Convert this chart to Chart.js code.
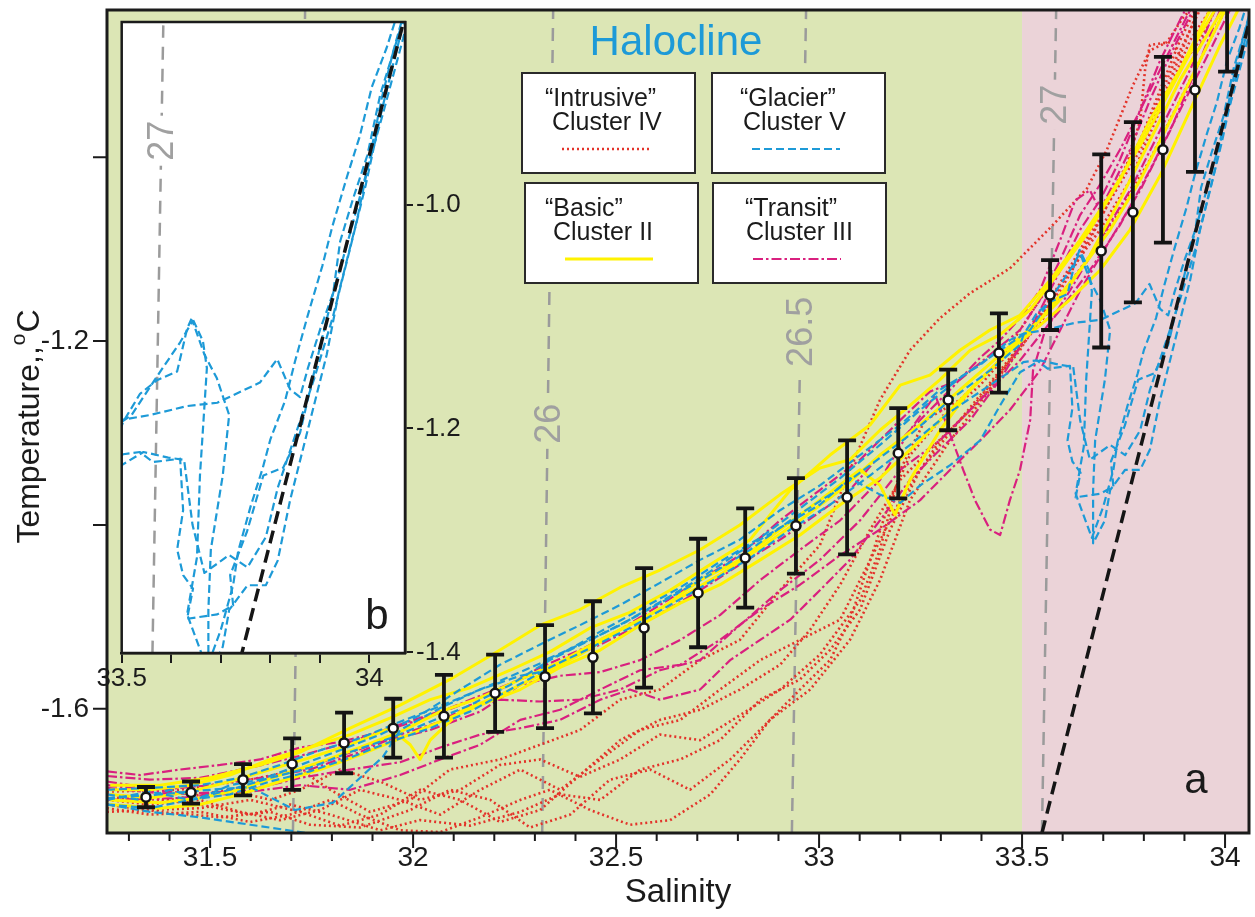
<!DOCTYPE html>
<html>
<head>
<meta charset="utf-8">
<title>T–S diagram</title>
<script src="https://cdn.jsdelivr.net/npm/chart.js@4.4.1/dist/chart.umd.min.js"></script>
<style>
  html, body { margin: 0; padding: 0; background: #fff; }
  #wrap { position: relative; width: 1255px; height: 917px; }
  #main { position: absolute; left: 0; top: 0; }
  #inset { position: absolute; left: 60px; top: 0; }
</style>
</head>
<body>
<div id="wrap">
  <canvas id="main" width="1255" height="917"></canvas>
  <canvas id="inset" width="420" height="700"></canvas>
</div>
<script>
const FONT = "'Liberation Sans', Arial, Helvetica, sans-serif";
const INK = '#1b1b1b';
const GREEN = '#dce6b5';
const PINK = '#ebd3d8';

// profiles per cluster, points are [salinity, temperature °C]
const intrusive = [
  [[31.246,-1.699],[31.352,-1.704],[31.475,-1.699],[31.574,-1.712],[31.672,-1.721],[31.771,-1.710],[31.869,-1.688],[31.968,-1.699],[32.067,-1.715],[32.165,-1.688],[32.264,-1.666],[32.362,-1.688],[32.461,-1.655],[32.559,-1.623],[32.658,-1.612],[32.756,-1.579],[32.855,-1.547],[32.953,-1.525],[33.052,-1.503],[33.126,-1.438],[33.200,-1.373],[33.298,-1.308],[33.397,-1.264],[33.495,-1.210],[33.569,-1.155],[33.643,-1.101],[33.717,-1.041],[33.791,-0.982],[33.840,-0.927],[33.889,-0.873],[33.926,-0.840]],
  [[31.246,-1.704],[31.377,-1.712],[31.525,-1.718],[31.648,-1.712],[31.746,-1.726],[31.869,-1.729],[31.993,-1.710],[32.091,-1.688],[32.190,-1.699],[32.288,-1.729],[32.387,-1.715],[32.485,-1.677],[32.584,-1.666],[32.682,-1.688],[32.781,-1.655],[32.879,-1.612],[32.978,-1.579],[33.076,-1.525],[33.150,-1.460],[33.224,-1.373],[33.323,-1.308],[33.421,-1.253],[33.520,-1.188],[33.594,-1.145],[33.667,-1.090],[33.741,-1.025],[33.815,-0.960],[33.877,-0.895],[33.938,-0.840]],
  [[31.246,-1.693],[31.352,-1.697],[31.475,-1.704],[31.599,-1.715],[31.697,-1.704],[31.796,-1.715],[31.919,-1.732],[32.017,-1.721],[32.140,-1.727],[32.264,-1.712],[32.362,-1.693],[32.461,-1.699],[32.559,-1.666],[32.658,-1.655],[32.756,-1.634],[32.855,-1.590],[32.953,-1.568],[33.027,-1.536],[33.101,-1.492],[33.175,-1.405],[33.249,-1.340],[33.347,-1.286],[33.446,-1.232],[33.544,-1.177],[33.618,-1.123],[33.692,-1.068],[33.754,-1.014],[33.791,-0.960],[33.803,-0.905],[33.815,-0.878],[33.865,-0.875],[33.902,-0.895],[33.938,-0.873],[33.975,-0.840]],
  [[31.246,-1.690],[31.426,-1.688],[31.599,-1.677],[31.722,-1.666],[31.796,-1.688],[31.894,-1.712],[31.993,-1.699],[32.091,-1.666],[32.214,-1.655],[32.313,-1.639],[32.411,-1.623],[32.510,-1.590],[32.608,-1.579],[32.707,-1.547],[32.805,-1.525],[32.904,-1.471],[33.002,-1.422],[33.076,-1.340],[33.150,-1.264],[33.224,-1.210],[33.298,-1.175],[33.372,-1.148],[33.470,-1.121],[33.569,-1.077],[33.660,-1.034],[33.709,-0.992],[33.773,-0.922],[33.815,-0.884],[33.857,-0.875],[33.897,-0.848],[33.919,-0.838]],
  [[31.246,-1.708],[31.352,-1.715],[31.475,-1.712],[31.599,-1.723],[31.697,-1.715],[31.796,-1.699],[31.869,-1.715],[31.968,-1.732],[32.067,-1.734],[32.165,-1.718],[32.264,-1.699],[32.337,-1.688],[32.436,-1.710],[32.534,-1.726],[32.633,-1.721],[32.732,-1.693],[32.805,-1.655],[32.879,-1.612],[32.953,-1.579],[33.027,-1.547],[33.076,-1.503],[33.126,-1.438],[33.175,-1.373],[33.224,-1.324],[33.298,-1.286],[33.397,-1.248],[33.495,-1.199],[33.594,-1.139],[33.692,-1.079],[33.766,-1.025],[33.840,-0.949],[33.914,-0.873],[33.963,-0.840]],
  [[31.246,-1.697],[31.401,-1.699],[31.549,-1.688],[31.648,-1.699],[31.722,-1.688],[31.820,-1.666],[31.919,-1.679],[32.017,-1.699],[32.116,-1.688],[32.214,-1.661],[32.313,-1.655],[32.411,-1.674],[32.510,-1.655],[32.608,-1.628],[32.707,-1.634],[32.805,-1.607],[32.904,-1.579],[33.002,-1.541],[33.101,-1.482],[33.150,-1.427],[33.200,-1.340],[33.261,-1.286],[33.347,-1.264],[33.446,-1.221],[33.544,-1.155],[33.643,-1.090],[33.717,-1.047],[33.791,-0.992],[33.865,-0.916],[33.914,-0.862],[33.933,-0.840]],
  [[31.246,-1.712],[31.352,-1.710],[31.475,-1.708],[31.599,-1.699],[31.722,-1.712],[31.820,-1.727],[31.919,-1.715],[32.017,-1.688],[32.116,-1.699],[32.214,-1.723],[32.313,-1.710],[32.411,-1.672],[32.510,-1.634],[32.608,-1.612],[32.707,-1.601],[32.805,-1.579],[32.904,-1.552],[32.978,-1.514],[33.052,-1.465],[33.126,-1.405],[33.200,-1.351],[33.273,-1.318],[33.372,-1.275],[33.470,-1.221],[33.569,-1.166],[33.667,-1.107],[33.741,-1.058],[33.815,-1.003],[33.889,-0.938],[33.963,-0.873],[34.000,-0.840]]
];

const transit = [
  [[31.246,-1.668],[31.328,-1.672],[31.426,-1.666],[31.525,-1.661],[31.623,-1.655],[31.722,-1.642],[31.820,-1.636],[31.919,-1.625],[32.017,-1.612],[32.116,-1.596],[32.214,-1.579],[32.313,-1.555],[32.411,-1.536],[32.510,-1.514],[32.608,-1.487],[32.707,-1.460],[32.805,-1.433],[32.904,-1.395],[33.002,-1.362],[33.101,-1.329],[33.200,-1.286],[33.273,-1.255],[33.347,-1.242],[33.421,-1.215],[33.495,-1.188],[33.544,-1.155],[33.594,-1.112],[33.643,-1.063],[33.692,-1.030],[33.741,-0.992],[33.791,-0.949],[33.840,-0.905],[33.889,-0.862],[33.914,-0.840]],
  [[31.246,-1.679],[31.377,-1.688],[31.500,-1.683],[31.623,-1.675],[31.746,-1.666],[31.869,-1.647],[31.968,-1.628],[32.067,-1.614],[32.140,-1.596],[32.214,-1.590],[32.313,-1.592],[32.411,-1.590],[32.510,-1.579],[32.608,-1.558],[32.707,-1.547],[32.805,-1.509],[32.904,-1.471],[33.002,-1.438],[33.101,-1.395],[33.200,-1.340],[33.298,-1.308],[33.397,-1.264],[33.495,-1.221],[33.594,-1.166],[33.667,-1.123],[33.741,-1.074],[33.815,-1.014],[33.889,-0.949],[33.963,-0.884],[34.012,-0.840]],
  [[31.246,-1.686],[31.401,-1.693],[31.549,-1.690],[31.672,-1.672],[31.796,-1.655],[31.919,-1.636],[32.042,-1.623],[32.165,-1.603],[32.264,-1.574],[32.362,-1.564],[32.461,-1.560],[32.559,-1.547],[32.658,-1.525],[32.756,-1.498],[32.855,-1.460],[32.953,-1.427],[33.052,-1.395],[33.150,-1.351],[33.224,-1.297],[33.286,-1.259],[33.310,-1.286],[33.355,-1.340],[33.384,-1.373],[33.421,-1.405],[33.446,-1.411],[33.470,-1.373],[33.495,-1.340],[33.520,-1.286],[33.527,-1.232],[33.557,-1.188],[33.618,-1.145],[33.692,-1.090],[33.766,-1.036],[33.840,-0.971],[33.914,-0.905],[33.975,-0.840]],
  [[31.246,-1.699],[31.426,-1.697],[31.599,-1.688],[31.722,-1.675],[31.845,-1.666],[31.968,-1.658],[32.067,-1.642],[32.165,-1.628],[32.264,-1.621],[32.362,-1.612],[32.461,-1.590],[32.534,-1.579],[32.608,-1.590],[32.707,-1.579],[32.781,-1.547],[32.855,-1.525],[32.929,-1.503],[33.002,-1.471],[33.076,-1.438],[33.150,-1.395],[33.224,-1.351],[33.298,-1.318],[33.372,-1.286],[33.446,-1.242],[33.520,-1.188],[33.594,-1.123],[33.643,-1.079],[33.692,-1.047],[33.741,-1.003],[33.791,-0.949],[33.840,-0.895],[33.889,-0.851],[33.902,-0.840]],
  [[31.246,-1.673],[31.352,-1.677],[31.475,-1.675],[31.599,-1.664],[31.722,-1.651],[31.845,-1.636],[31.968,-1.617],[32.091,-1.599],[32.214,-1.577],[32.337,-1.555],[32.461,-1.530],[32.584,-1.503],[32.707,-1.471],[32.805,-1.443],[32.904,-1.416],[33.002,-1.386],[33.076,-1.362],[33.150,-1.324],[33.200,-1.308],[33.273,-1.275],[33.323,-1.253],[33.397,-1.218],[33.446,-1.199],[33.495,-1.175],[33.544,-1.145],[33.594,-1.090],[33.631,-1.047],[33.667,-1.036],[33.692,-1.058],[33.717,-1.036],[33.766,-0.992],[33.815,-0.938],[33.865,-0.889],[33.914,-0.846],[33.926,-0.840]],
  [[31.246,-1.683],[31.377,-1.690],[31.549,-1.693],[31.722,-1.683],[31.845,-1.688],[31.968,-1.672],[32.067,-1.655],[32.165,-1.639],[32.264,-1.612],[32.362,-1.601],[32.461,-1.579],[32.559,-1.558],[32.658,-1.552],[32.756,-1.525],[32.855,-1.492],[32.953,-1.465],[33.052,-1.433],[33.150,-1.405],[33.249,-1.373],[33.323,-1.340],[33.397,-1.308],[33.470,-1.275],[33.544,-1.232],[33.594,-1.188],[33.643,-1.145],[33.717,-1.090],[33.791,-1.036],[33.865,-0.971],[33.938,-0.895],[33.988,-0.840]]
];

const basic = [
  [[31.254,-1.688],[31.352,-1.688],[31.451,-1.683],[31.549,-1.672],[31.648,-1.655],[31.746,-1.642],[31.845,-1.628],[31.943,-1.610],[32.042,-1.590],[32.140,-1.577],[32.239,-1.558],[32.337,-1.538],[32.436,-1.512],[32.534,-1.495],[32.633,-1.471],[32.732,-1.443],[32.830,-1.416],[32.929,-1.362],[33.027,-1.324],[33.126,-1.291],[33.200,-1.248],[33.273,-1.237],[33.347,-1.210],[33.421,-1.188],[33.495,-1.172],[33.569,-1.134],[33.643,-1.090],[33.717,-1.041],[33.791,-0.987],[33.865,-0.927],[33.938,-0.867],[33.975,-0.840]],
  [[31.254,-1.693],[31.352,-1.697],[31.451,-1.690],[31.549,-1.679],[31.648,-1.666],[31.746,-1.653],[31.845,-1.639],[31.943,-1.621],[31.993,-1.639],[32.017,-1.655],[32.042,-1.634],[32.116,-1.603],[32.214,-1.585],[32.313,-1.563],[32.411,-1.541],[32.510,-1.514],[32.608,-1.492],[32.707,-1.460],[32.805,-1.438],[32.904,-1.405],[33.002,-1.373],[33.101,-1.340],[33.150,-1.357],[33.187,-1.389],[33.224,-1.351],[33.298,-1.297],[33.372,-1.253],[33.446,-1.221],[33.520,-1.188],[33.594,-1.155],[33.667,-1.107],[33.741,-1.047],[33.815,-0.982],[33.889,-0.916],[33.963,-0.862],[33.993,-0.840]],
  [[31.254,-1.699],[31.377,-1.702],[31.475,-1.697],[31.574,-1.688],[31.672,-1.672],[31.771,-1.658],[31.869,-1.642],[31.968,-1.625],[32.067,-1.603],[32.165,-1.588],[32.264,-1.568],[32.362,-1.549],[32.461,-1.525],[32.559,-1.503],[32.658,-1.479],[32.756,-1.454],[32.855,-1.425],[32.953,-1.395],[33.052,-1.362],[33.150,-1.324],[33.249,-1.291],[33.347,-1.253],[33.446,-1.215],[33.544,-1.177],[33.643,-1.123],[33.717,-1.079],[33.791,-1.025],[33.865,-0.960],[33.938,-0.895],[34.000,-0.840]],
  [[31.254,-1.704],[31.377,-1.708],[31.475,-1.704],[31.574,-1.693],[31.672,-1.679],[31.771,-1.666],[31.869,-1.650],[31.968,-1.632],[32.067,-1.614],[32.165,-1.596],[32.264,-1.579],[32.362,-1.555],[32.461,-1.536],[32.559,-1.509],[32.658,-1.485],[32.756,-1.465],[32.855,-1.438],[32.953,-1.411],[33.052,-1.378],[33.150,-1.349],[33.249,-1.308],[33.323,-1.275],[33.397,-1.242],[33.470,-1.210],[33.544,-1.183],[33.618,-1.155],[33.692,-1.123],[33.766,-1.079],[33.840,-1.020],[33.914,-0.949],[33.988,-0.878],[34.032,-0.840]],
  [[31.254,-1.683],[31.377,-1.683],[31.500,-1.675],[31.623,-1.661],[31.722,-1.647],[31.845,-1.621],[31.968,-1.596],[32.091,-1.568],[32.214,-1.536],[32.313,-1.509],[32.411,-1.492],[32.510,-1.468],[32.608,-1.449],[32.707,-1.427],[32.805,-1.400],[32.904,-1.367],[33.002,-1.338],[33.076,-1.329],[33.150,-1.297],[33.224,-1.270],[33.298,-1.242],[33.372,-1.210],[33.446,-1.193],[33.520,-1.166],[33.594,-1.123],[33.667,-1.079],[33.741,-1.025],[33.815,-0.960],[33.889,-0.905],[33.938,-0.862],[33.963,-0.840]]
];

const glacier = [
  [[31.246,-1.693],[31.328,-1.699],[31.401,-1.688],[31.475,-1.697],[31.549,-1.683],[31.623,-1.677],[31.722,-1.661],[31.820,-1.645],[31.919,-1.628],[32.017,-1.607],[32.116,-1.579],[32.214,-1.552],[32.313,-1.530],[32.411,-1.509],[32.510,-1.487],[32.608,-1.463],[32.707,-1.438],[32.805,-1.416],[32.904,-1.384],[33.002,-1.357],[33.101,-1.324],[33.200,-1.291],[33.298,-1.253],[33.397,-1.226],[33.470,-1.199],[33.503,-1.192],[33.557,-1.188],[33.632,-1.180],[33.693,-1.177],[33.779,-1.159],[33.814,-1.138],[33.840,-1.165],[33.860,-1.172],[33.876,-1.146],[33.901,-1.111],[33.927,-1.079],[33.941,-1.033],[33.967,-0.995],[33.996,-0.956],[34.022,-0.902],[34.062,-0.844],[34.075,-0.825]],
  [[31.246,-1.699],[31.352,-1.690],[31.451,-1.699],[31.549,-1.688],[31.648,-1.675],[31.746,-1.664],[31.845,-1.647],[31.943,-1.632],[32.042,-1.614],[32.140,-1.596],[32.239,-1.574],[32.337,-1.547],[32.436,-1.525],[32.534,-1.503],[32.633,-1.479],[32.732,-1.454],[32.830,-1.427],[32.929,-1.395],[33.027,-1.367],[33.126,-1.335],[33.224,-1.302],[33.323,-1.264],[33.421,-1.232],[33.495,-1.204],[33.503,-1.194],[33.537,-1.169],[33.571,-1.157],[33.612,-1.149],[33.632,-1.111],[33.642,-1.101],[33.664,-1.122],[33.672,-1.146],[33.658,-1.242],[33.652,-1.315],[33.632,-1.366],[33.672,-1.414],[33.700,-1.380],[33.725,-1.340],[33.735,-1.310],[33.760,-1.270],[33.785,-1.235],[33.800,-1.210],[33.830,-1.175],[33.850,-1.140],[33.875,-1.100],[33.905,-1.055],[33.925,-1.020],[33.955,-0.975],[33.980,-0.940],[34.005,-0.895],[34.035,-0.860],[34.060,-0.825]],
  [[31.246,-1.704],[31.352,-1.708],[31.451,-1.699],[31.549,-1.693],[31.648,-1.679],[31.746,-1.668],[31.845,-1.653],[31.943,-1.636],[32.042,-1.621],[32.140,-1.603],[32.239,-1.579],[32.337,-1.555],[32.436,-1.534],[32.534,-1.512],[32.633,-1.487],[32.732,-1.462],[32.830,-1.436],[32.929,-1.405],[33.027,-1.378],[33.126,-1.346],[33.224,-1.313],[33.323,-1.277],[33.421,-1.248],[33.495,-1.226],[33.503,-1.223],[33.537,-1.221],[33.563,-1.230],[33.618,-1.227],[33.624,-1.273],[33.612,-1.308],[33.624,-1.331],[33.644,-1.343],[33.632,-1.370],[33.693,-1.366],[33.725,-1.358],[33.719,-1.331],[33.753,-1.292],[33.786,-1.242],[33.826,-1.235],[33.860,-1.204],[33.901,-1.126],[33.927,-1.079],[33.961,-1.026],[33.987,-0.983],[34.028,-0.918],[34.068,-0.852],[34.080,-0.830]],
  [[31.246,-1.697],[31.377,-1.693],[31.500,-1.688],[31.599,-1.685],[31.709,-1.710],[31.803,-1.702],[31.926,-1.652],[31.968,-1.623],[32.067,-1.599],[32.165,-1.579],[32.264,-1.560],[32.362,-1.541],[32.461,-1.516],[32.559,-1.492],[32.658,-1.468],[32.756,-1.440],[32.855,-1.414],[32.953,-1.382],[33.052,-1.349],[33.150,-1.313],[33.249,-1.275],[33.347,-1.240],[33.446,-1.210],[33.520,-1.188],[33.569,-1.155],[33.618,-1.123],[33.643,-1.104],[33.667,-1.134],[33.692,-1.155],[33.717,-1.188],[33.704,-1.242],[33.680,-1.308],[33.675,-1.362],[33.675,-1.420],[33.704,-1.395],[33.717,-1.362],[33.754,-1.340],[33.791,-1.340],[33.815,-1.318],[33.840,-1.264],[33.877,-1.199],[33.914,-1.134],[33.938,-1.079],[33.975,-1.014],[34.000,-0.960],[34.025,-0.905],[34.049,-0.862],[34.066,-0.835]],
  [[31.246,-1.704],[31.352,-1.712],[31.475,-1.718],[31.599,-1.726],[31.722,-1.734],[31.820,-1.742]],
  [[31.246,-1.688],[31.352,-1.686],[31.475,-1.683],[31.574,-1.675],[31.672,-1.661],[31.771,-1.645],[31.869,-1.632],[31.968,-1.614],[32.067,-1.597],[32.165,-1.579],[32.264,-1.564],[32.313,-1.560],[32.325,-1.547],[32.411,-1.530],[32.510,-1.509],[32.608,-1.484],[32.707,-1.458],[32.805,-1.429],[32.904,-1.403],[33.002,-1.378],[33.076,-1.349],[33.150,-1.367],[33.200,-1.376],[33.249,-1.357],[33.323,-1.335],[33.397,-1.308],[33.446,-1.270],[33.495,-1.234],[33.544,-1.221],[33.594,-1.226],[33.626,-1.228],[33.643,-1.286],[33.667,-1.329],[33.717,-1.313],[33.754,-1.324],[33.791,-1.297],[33.815,-1.253],[33.852,-1.204],[33.889,-1.155],[33.926,-1.101],[33.963,-1.036],[33.993,-0.982],[34.025,-0.916],[34.049,-0.873],[34.074,-0.829]]
];

// mean profile and its standard deviation
const meanSal  = [31.342, 31.453, 31.581, 31.702, 31.830, 31.951, 32.076, 32.202, 32.325, 32.443, 32.569, 32.702, 32.818, 32.943, 33.069, 33.195, 33.318, 33.443, 33.569, 33.695, 33.773, 33.847, 33.926, 34.005];
const meanTemp = [-1.696, -1.691, -1.677, -1.660, -1.637, -1.621, -1.608, -1.583, -1.565, -1.544, -1.512, -1.474, -1.436, -1.401, -1.370, -1.322, -1.264, -1.213, -1.150, -1.102, -1.060, -0.992, -0.927, -0.819];
const tempSd   = [0.011, 0.012, 0.017, 0.028, 0.033, 0.032, 0.045, 0.042, 0.056, 0.061, 0.065, 0.059, 0.054, 0.052, 0.062, 0.049, 0.033, 0.043, 0.038, 0.105, 0.098, 0.101, 0.089, 0.088];

// sigma-t isopycnals
const sigmaNames     = ['', '26', '26.5', '27'];
const sigmaSalLow    = [31.704, 32.318, 32.933, 33.549];
const sigmaSalHigh   = [31.734, 32.345, 32.968, 33.584];
const sigmaTempRange = [-1.735, -0.84];
const sigmaLabelTemp = [null, -1.29, -1.19, -0.943];

// dashed mixing line
const mixSal  = [33.549, 34.07];
const mixTemp = [-1.735, -0.835];

const haloclineEdge = 33.5;

const xTickLabels = [31.5, 32, 32.5, 33, 33.5, 34];
const yTickLabels = [-1.2, -1.6];
const insetXLabels = [33.5, 34];
const insetYLabels = [-1.0, -1.2, -1.4];

const clusterStyle = {
  intrusive: { color: '#e3332a', width: 2.6, dash: [2, 3] },
  glacier:   { color: '#1d9ad7', width: 2.2, dash: [8, 4] },
  basic:     { color: '#fff200', width: 3, dash: [] },
  transit:   { color: '#d9207f', width: 2.2, dash: [10, 3, 2.5, 3] }
};

const legendEntries = [
  { key: 'intrusive', lines: ['“Intrusive”', 'Cluster IV'], box: [522, 73], indent: [23, 30] },
  { key: 'glacier',   lines: ['“Glacier”', 'Cluster V'],    box: [712, 73], indent: [28, 31] },
  { key: 'basic',     lines: ['“Basic”', 'Cluster II'],     box: [525, 183], indent: [20, 28] },
  { key: 'transit',   lines: ['“Transit”', 'Cluster III'],  box: [713, 183], indent: [32, 33] }
];

const hasLabel = (list, v) => list.some(l => Math.abs(l - v) < 1e-6);

function profileSets(profiles, st, order) {
  return profiles.map(p => ({
    data: p.map(([s, t]) => ({ x: s, y: t })),
    showLine: true,
    borderColor: st.color,
    borderWidth: st.width,
    borderDash: st.dash,
    borderJoinStyle: 'round',
    pointRadius: 0,
    order
  }));
}

function sigmaSets(indices) {
  return indices.map(i => ({
    sigma: sigmaNames[i],
    labelTemp: sigmaLabelTemp[i],
    data: [{ x: sigmaSalLow[i], y: sigmaTempRange[0] }, { x: sigmaSalHigh[i], y: sigmaTempRange[1] }],
    showLine: true,
    borderColor: '#9b9b9b',
    borderWidth: 2.5,
    borderDash: [13, 9],
    pointRadius: 0,
    order: 10
  }));
}

function mixingSet() {
  return {
    data: mixSal.map((s, i) => ({ x: s, y: mixTemp[i] })),
    showLine: true,
    borderColor: '#151515',
    borderWidth: 3.5,
    borderDash: [13, 7],
    pointRadius: 0,
    order: 2
  };
}

// rotated isopycnal values, sitting on their own line
function sigmaLabelPlugin(maskColor) {
  return {
    id: 'sigmaLabels',
    afterDatasetDraw(chart, args) {
      const ds = chart.data.datasets[args.index];
      if (!ds.sigma) return;
      const [lo, hi] = ds.data;
      const t = ds.labelTemp;
      const s = lo.x + (hi.x - lo.x) * (t - lo.y) / (hi.y - lo.y);
      const px = chart.scales.x.getPixelForValue(s);
      const py = chart.scales.y.getPixelForValue(t);
      const ctx = chart.ctx;
      ctx.save();
      ctx.translate(px, py);
      ctx.rotate(-Math.PI / 2);
      ctx.font = `36px ${FONT}`;
      const w = ctx.measureText(ds.sigma).width;
      ctx.fillStyle = maskColor(s);
      ctx.fillRect(-w / 2 - 5, -6, w + 10, 12);
      ctx.fillStyle = '#a0a0a0';
      ctx.textAlign = 'center';
      ctx.textBaseline = 'middle';
      ctx.fillText(ds.sigma, 0, 2);
      ctx.restore();
    }
  };
}

const errorBarPlugin = {
  id: 'errorBars',
  beforeDatasetDraw(chart, args) {
    const ds = chart.data.datasets[args.index];
    if (!ds.errorBars) return;
    const { ctx, chartArea: a, scales: { x, y } } = chart;
    ctx.save();
    ctx.beginPath();
    ctx.rect(a.left, a.top, a.right - a.left, a.bottom - a.top);
    ctx.clip();
    ctx.strokeStyle = '#141414';
    ctx.lineWidth = 3.8;
    ds.data.forEach((p, i) => {
      const px = x.getPixelForValue(p.x);
      const top = y.getPixelForValue(p.y + ds.errorBars[i]);
      const bot = y.getPixelForValue(p.y - ds.errorBars[i]);
      ctx.beginPath();
      ctx.moveTo(px, top); ctx.lineTo(px, bot);
      ctx.moveTo(px - 9, top); ctx.lineTo(px + 9, top);
      ctx.moveTo(px - 9, bot); ctx.lineTo(px + 9, bot);
      ctx.stroke();
    });
    ctx.restore();
  }
};

const mainDecor = {
  id: 'mainDecor',
  beforeDraw(chart) {
    const { ctx, chartArea: a, scales: { x } } = chart;
    const edge = x.getPixelForValue(haloclineEdge);
    ctx.save();
    ctx.fillStyle = GREEN;
    ctx.fillRect(a.left, a.top, edge - a.left, a.bottom - a.top);
    ctx.fillStyle = PINK;
    ctx.fillRect(edge, a.top, a.right - edge, a.bottom - a.top);
    ctx.restore();
  },
  afterDraw(chart) {
    const { ctx, chartArea: a, scales: { x, y } } = chart;
    ctx.save();

    ctx.strokeStyle = INK;
    ctx.lineWidth = 3;
    ctx.strokeRect(a.left, a.top, a.right - a.left, a.bottom - a.top);

    // tick marks: long at labelled salinities
    ctx.lineWidth = 2;
    ctx.beginPath();
    x.ticks.forEach(t => {
      const px = x.getPixelForValue(t.value);
      const len = hasLabel(xTickLabels, t.value) ? 15 : 8;
      ctx.moveTo(px, a.bottom);
      ctx.lineTo(px, a.bottom + len);
    });
    y.ticks.forEach(t => {
      const py = y.getPixelForValue(t.value);
      ctx.moveTo(a.left, py);
      ctx.lineTo(a.left - 14, py);
    });
    ctx.stroke();

    // temperature axis title with raised "o"
    ctx.save();
    ctx.translate(30, (a.top + a.bottom) / 2 + 5);
    ctx.rotate(-Math.PI / 2);
    ctx.fillStyle = INK;
    ctx.textAlign = 'left';
    ctx.textBaseline = 'middle';
    const head = 'Temperature,,';
    ctx.font = `32px ${FONT}`;
    const wHead = ctx.measureText(head).width;
    const wC = ctx.measureText('C').width;
    ctx.font = `21px ${FONT}`;
    const wO = ctx.measureText('o').width;
    let cx = -(wHead + wO + wC + 2) / 2;
    ctx.font = `32px ${FONT}`;
    ctx.fillText(head, cx, 0);
    cx += wHead + 1;
    ctx.font = `21px ${FONT}`;
    ctx.fillText('o', cx, -11);
    cx += wO + 1;
    ctx.font = `32px ${FONT}`;
    ctx.fillText('C', cx, 0);
    ctx.restore();

    // zone title
    ctx.fillStyle = '#1d9ad7';
    ctx.font = `42px ${FONT}`;
    ctx.textAlign = 'center';
    ctx.textBaseline = 'middle';
    ctx.fillText('Halocline', 676, 43);

    // cluster legend boxes
    legendEntries.forEach(e => {
      const [bx, by] = e.box;
      const st = clusterStyle[e.key];
      ctx.fillStyle = '#ffffff';
      ctx.fillRect(bx, by, 173, 100);
      ctx.strokeStyle = '#2a2a2a';
      ctx.lineWidth = 2;
      ctx.setLineDash([]);
      ctx.strokeRect(bx, by, 173, 100);
      ctx.fillStyle = INK;
      ctx.font = `25px ${FONT}`;
      ctx.textAlign = 'left';
      ctx.textBaseline = 'middle';
      ctx.fillText(e.lines[0], bx + e.indent[0], by + 26);
      ctx.fillText(e.lines[1], bx + e.indent[1], by + 50);
      ctx.strokeStyle = st.color;
      ctx.lineWidth = st.width;
      ctx.setLineDash(st.dash);
      ctx.beginPath();
      ctx.moveTo(bx + 40, by + 76);
      ctx.lineTo(bx + 128, by + 76);
      ctx.stroke();
      ctx.setLineDash([]);
    });

    ctx.fillStyle = INK;
    ctx.font = `42px ${FONT}`;
    ctx.textAlign = 'center';
    ctx.textBaseline = 'middle';
    ctx.fillText('a', a.right - 53, a.bottom - 52);
    ctx.restore();
  }
};

const insetDecor = {
  id: 'insetDecor',
  beforeDraw(chart) {
    const { ctx, chartArea: a } = chart;
    ctx.save();
    ctx.fillStyle = '#ffffff';
    ctx.fillRect(a.left, a.top, a.right - a.left, a.bottom - a.top);
    ctx.restore();
  },
  afterDraw(chart) {
    const { ctx, chartArea: a } = chart;
    ctx.save();
    ctx.strokeStyle = INK;
    ctx.lineWidth = 2.5;
    ctx.strokeRect(a.left, a.top, a.right - a.left, a.bottom - a.top);
    ctx.fillStyle = INK;
    ctx.font = `42px ${FONT}`;
    ctx.textAlign = 'center';
    ctx.textBaseline = 'middle';
    ctx.fillText('b', a.right - 28, a.bottom - 36);
    ctx.restore();
  }
};

const tickFont = { family: FONT, size: 28 };

new Chart(document.getElementById('main'), {
  type: 'scatter',
  data: {
    datasets: [
      ...sigmaSets([0, 1, 2, 3]),
      mixingSet(),
      ...profileSets(intrusive, clusterStyle.intrusive, 6),
      ...profileSets(transit, clusterStyle.transit, 5),
      ...profileSets(basic, clusterStyle.basic, 4),
      ...profileSets(glacier, clusterStyle.glacier, 3),
      {
        data: meanSal.map((s, i) => ({ x: s, y: meanTemp[i] })),
        errorBars: tempSd,
        showLine: false,
        pointRadius: 4.5,
        pointBorderWidth: 2.5,
        pointBackgroundColor: '#ffffff',
        pointBorderColor: '#141414',
        order: 0
      }
    ]
  },
  options: {
    responsive: false,
    animation: false,
    devicePixelRatio: 1,
    layout: { autoPadding: false, padding: { left: 0, top: 10, right: 6, bottom: 0 } },
    plugins: { legend: { display: false }, tooltip: { enabled: false } },
    scales: {
      x: {
        type: 'linear', position: 'bottom', min: 31.246, max: 34.059,
        afterFit: s => { s.height = 84; s.paddingLeft = 0; s.paddingRight = 0; },
        grid: { display: true, drawOnChartArea: false, drawTicks: false },
        border: { display: false },
        ticks: {
          stepSize: 0.1, includeBounds: false, autoSkip: false, maxRotation: 0, minRotation: 0,
          padding: 8, color: INK, font: tickFont,
          callback: v => hasLabel(xTickLabels, v) ? String(+v.toFixed(1)) : ''
        },
        title: { display: true, text: 'Salinity', color: INK, font: { family: FONT, size: 33 }, padding: { top: 0, bottom: 4 } }
      },
      y: {
        type: 'linear', position: 'left', min: -1.735, max: -0.84,
        afterFit: s => { s.width = 107; s.paddingTop = 0; s.paddingBottom = 0; },
        grid: { display: true, drawOnChartArea: false, drawTicks: false },
        border: { display: false },
        ticks: {
          stepSize: 0.2, includeBounds: false, autoSkip: false,
          padding: 18, color: INK, font: tickFont,
          callback: v => hasLabel(yTickLabels, v) ? v.toFixed(1) : ''
        }
      }
    }
  },
  plugins: [mainDecor, errorBarPlugin, sigmaLabelPlugin(s => s < haloclineEdge ? GREEN : PINK)]
});

// enlarged view of the glacier profiles at high salinity
new Chart(document.getElementById('inset'), {
  type: 'scatter',
  data: {
    datasets: [
      ...sigmaSets([3]),
      mixingSet(),
      ...profileSets(glacier, clusterStyle.glacier, 3)
    ]
  },
  options: {
    responsive: false,
    animation: false,
    devicePixelRatio: 1,
    layout: { autoPadding: false, padding: { left: 61.7, top: 22, right: 0, bottom: 0 } },
    plugins: { legend: { display: false }, tooltip: { enabled: false } },
    scales: {
      x: {
        type: 'linear', position: 'bottom', min: 33.5, max: 34.072,
        afterFit: s => { s.height = 47; s.paddingLeft = 0; s.paddingRight = 0; },
        grid: { drawOnChartArea: false, drawTicks: true, tickLength: 10, color: INK, lineWidth: 2 },
        border: { display: true, color: INK, width: 2.5 },
        ticks: {
          stepSize: 0.1, includeBounds: false, autoSkip: false, maxRotation: 0, minRotation: 0,
          padding: 0, color: INK, font: { family: FONT, size: 26 },
          callback: v => hasLabel(insetXLabels, v) ? String(+v.toFixed(1)) : ''
        }
      },
      y: {
        type: 'linear', position: 'right', min: -1.4005, max: -0.837,
        afterFit: s => { s.width = 75; s.paddingTop = 0; s.paddingBottom = 0; },
        grid: { drawOnChartArea: false, drawTicks: true, tickLength: 8, color: INK, lineWidth: 2 },
        border: { display: true, color: INK, width: 2.5 },
        ticks: {
          stepSize: 0.2, includeBounds: false, autoSkip: false,
          padding: 3, color: INK, font: { family: FONT, size: 26 },
          callback: v => hasLabel(insetYLabels, v) ? v.toFixed(1) : ''
        }
      }
    }
  },
  plugins: [insetDecor, sigmaLabelPlugin(() => '#ffffff')]
});
</script>
</body>
</html>
